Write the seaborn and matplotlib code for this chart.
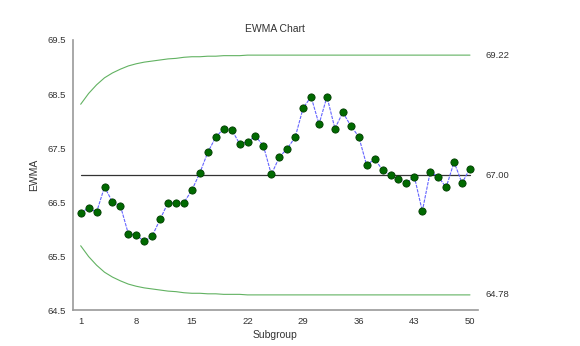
import matplotlib
matplotlib.use("Agg")
import matplotlib.pyplot as plt
import seaborn as sns
import pandas as pd

subgroups = list(range(1, 51))
ewma = [66.30, 66.39, 66.31, 66.78, 66.50, 66.43, 65.91, 65.89, 65.77, 65.87,
        66.18, 66.49, 66.48, 66.49, 66.72, 67.04, 67.42, 67.70, 67.86, 67.84,
        67.58, 67.61, 67.72, 67.54, 67.01, 67.33, 67.49, 67.70, 68.24, 68.45,
        67.94, 68.45, 67.86, 68.16, 67.91, 67.71, 67.18, 67.30, 67.09, 67.00,
        66.92, 66.85, 66.97, 66.33, 67.06, 66.97, 66.77, 67.24, 66.85, 67.12]
ucl = [68.31, 68.51, 68.67, 68.80, 68.89, 68.96, 69.02, 69.06, 69.09, 69.11,
       69.13, 69.15, 69.16, 69.18, 69.19, 69.19, 69.20, 69.20, 69.21, 69.21,
       69.21] + [69.22] * 29
lcl = [65.69, 65.49, 65.33, 65.20, 65.11, 65.04, 64.98, 64.94, 64.91, 64.89,
       64.87, 64.85, 64.84, 64.82, 64.81, 64.81, 64.80, 64.80, 64.79, 64.79,
       64.79] + [64.78] * 29
center = 67.00
limit_labels = ["69.22", "67.00", "64.78"]
limit_values = [69.22, 67.00, 64.78]
xticks = [1, 8, 15, 22, 29, 36, 43, 50]
yticks = [64.5, 65.5, 66.5, 67.5, 68.5, 69.5]

sns.set_style("white")
plt.rcParams["font.family"] = ["Liberation Sans", "DejaVu Sans"]

df = pd.DataFrame({"Subgroup": subgroups, "EWMA": ewma, "UCL": ucl, "LCL": lcl})

fig = plt.figure(figsize=(5.8, 3.46), dpi=100)
ax = fig.add_axes([0.1254, 0.104, 0.824 - 0.1254, 0.8844 - 0.104])

green = "#62b262"
sns.lineplot(data=df, x="Subgroup", y="UCL", ax=ax, color=green, lw=0.8)
sns.lineplot(data=df, x="Subgroup", y="LCL", ax=ax, color=green, lw=0.8)
sns.lineplot(x=[subgroups[0], subgroups[-1]], y=[center, center], ax=ax,
             color="#333333", lw=0.9)
sns.lineplot(data=df, x="Subgroup", y="EWMA", ax=ax, color="#6464ff", lw=0.8,
             linestyle=(0, (3, 1)), marker="o", markersize=5.2,
             markerfacecolor="#006a00", markeredgecolor="#003c00",
             markeredgewidth=0.6)

for lab, v in zip(limit_labels, limit_values):
    ax.text(51.9, v, lab, ha="left", va="center", fontsize=6.8,
            color="#333333", clip_on=False)

ax.set_xlim(0, 51)
ax.set_ylim(64.5, 69.5)
ax.set_xticks(xticks)
ax.set_yticks(yticks)
ax.set_yticklabels([f"{t:.1f}" for t in yticks])
ax.tick_params(axis="both", labelsize=6.8, length=3, width=0.8,
               direction="out", pad=2, colors="#888888", labelcolor="#333333")
for s in ["top", "right"]:
    ax.spines[s].set_visible(False)
for s in ["left", "bottom"]:
    ax.spines[s].set_color("#999999")
    ax.spines[s].set_linewidth(1.2)
ax.set_xlabel("Subgroup", fontsize=7.5, color="#333333", labelpad=3)
ax.set_ylabel("EWMA", fontsize=7.5, color="#333333", labelpad=6)
ax.set_title("EWMA Chart", fontsize=7.5, color="#333333", pad=6)

fig.savefig("out.png", dpi=100)
